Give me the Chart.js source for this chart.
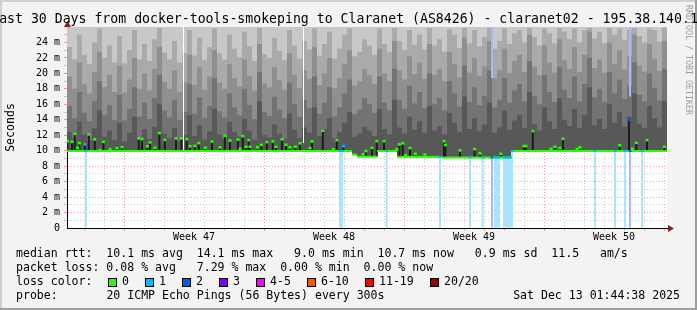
<!DOCTYPE html>
<html>
<head>
<meta charset="utf-8">
<script src="https://cdn.jsdelivr.net/npm/chart.js@4.4.1/dist/chart.umd.min.js"></script>
<style>
  html, body { margin: 0; padding: 0; background: #f3f3f3; }
  canvas { display: block; }
</style>
</head>
<body>
<canvas id="smoke" width="697" height="310"></canvas>
<script>
/* smokeping 30 day graph — claranet02 */

const MONO = '"DejaVu Sans Mono", monospace';
const DAYS = 30;
const Y_MAX = 26;
const COL_DAYS = 0.25;            // one smoke column = 6 hours

// median rtt per column (ms)
const MEDIAN = [
  9.96, 9.96, 9.96, 9.96, 9.96, 9.96, 9.96, 9.96, 9.96, 9.96,
  9.96, 9.96, 9.96, 9.96, 9.96, 9.96, 9.96, 9.96, 9.96, 9.96,
  9.96, 9.96, 9.96, 9.96, 9.96, 9.96, 9.96, 9.96, 9.96, 9.96,
  9.96, 9.96, 9.96, 9.96, 9.96, 9.96, 9.96, 9.96, 9.96, 9.96,
  9.96, 9.96, 9.96, 9.96, 9.96, 9.96, 9.96, 9.96, 9.96, 9.96,
  9.96, 9.96, 9.96, 9.96, 9.96, 9.96, 9.96, 9.5, 9.22, 9.22,
  9.22, 9.22, 9.96, 9.96, 9.96, 9.96, 9.2, 9.2, 9.2, 9.2,
  9.2, 9.2, 9.2, 9.2, 9.2, 9.12, 9.12, 9.12, 9.12, 9.12,
  9.12, 9.12, 9.12, 9.12, 9.12, 9.12, 9.12, 9.12, 9.12, 9.96,
  9.96, 9.96, 9.96, 9.96, 9.96, 9.96, 9.96, 9.96, 9.96, 9.96,
  9.96, 9.96, 9.96, 9.96, 9.96, 9.96, 9.96, 9.96, 9.96, 9.96,
  9.96, 9.96, 9.96, 9.96, 9.96, 9.96, 9.96, 9.96, 9.96, 9.96
];

// smoke: upper edge of each grey band per column (ms), darkest first
const SMOKE_1 = [
  12.4, 11.6, 13.8, 12.1, 11.3, 12.9, 15.2, 11.8, 12.6, 11.4,
  13.6, 11.2, 12.3, 14.4, 11.7, 12.8, 11.5, 13.1, 16.0, 12.2,
  11.6, 12.9, 11.3, 12.0, 14.6, 11.9, 13.3, 11.4, 12.5, 15.4,
  12.1, 11.5, 13.7, 12.4, 11.8, 14.1, 12.6, 11.4, 16.4, 12.0,
  11.7, 13.4, 12.2, 11.5, 14.8, 12.7, 11.6, 13.0, 12.3, 15.6,
  11.9, 12.8, 14.2, 11.6, 12.4, 13.6, 15.0, 11.8, 12.2, 13.1,
  12.6, 11.9, 15.4, 12.8, 12.1, 16.6, 13.0, 12.2, 14.4, 12.7,
  13.8, 12.3, 15.8, 12.6, 13.2, 12.1, 14.9, 13.6, 12.4, 17.0,
  12.8, 14.2, 12.5, 13.4, 16.2, 12.3, 13.0, 15.2, 12.7, 13.9,
  14.6, 12.9, 17.6, 13.4, 12.6, 15.6, 13.8, 12.8, 16.8, 14.0,
  13.2, 15.4, 12.9, 14.6, 18.2, 13.3, 14.1, 12.8, 16.0, 13.6,
  15.0, 13.1, 14.4, 17.4, 13.5, 12.9, 15.8, 14.2, 13.0, 16.4
];
const SMOKE_2 = [
  15.8, 14.2, 17.6, 14.9, 13.8, 16.4, 19.0, 14.6, 15.9, 14.0,
  17.2, 13.9, 15.4, 18.2, 14.4, 16.2, 14.1, 16.8, 19.8, 15.2,
  14.3, 16.6, 14.0, 15.0, 18.6, 14.8, 16.9, 14.2, 15.8, 19.4,
  15.1, 14.3, 17.4, 15.6, 14.6, 18.0, 15.9, 14.1, 20.2, 15.0,
  14.5, 17.0, 15.3, 14.2, 18.8, 16.0, 14.4, 16.6, 15.5, 19.6,
  14.8, 16.2, 18.2, 14.4, 15.6, 17.4, 19.2, 14.7, 15.3, 16.8,
  16.0, 14.9, 19.6, 16.2, 15.2, 20.6, 16.6, 15.4, 18.4, 16.1,
  17.6, 15.5, 20.0, 16.0, 16.8, 15.2, 19.0, 17.4, 15.7, 21.0,
  16.3, 18.2, 15.9, 17.1, 20.4, 15.6, 16.6, 19.4, 16.2, 17.8,
  18.6, 16.4, 21.6, 17.1, 16.0, 19.8, 17.6, 16.3, 20.8, 17.9,
  16.8, 19.6, 16.4, 18.6, 22.0, 16.9, 18.0, 16.3, 20.2, 17.4,
  19.2, 16.7, 18.4, 21.4, 17.2, 16.4, 20.0, 18.1, 16.5, 20.6
];
const SMOKE_3 = [
  19.6, 18.0, 21.4, 18.6, 17.4, 20.2, 22.8, 18.2, 19.8, 17.6,
  21.0, 17.5, 19.2, 22.0, 18.0, 20.0, 17.8, 20.6, 23.4, 18.9,
  18.0, 20.4, 17.6, 18.8, 22.4, 18.5, 20.8, 17.9, 19.6, 23.0,
  18.8, 18.0, 21.2, 19.4, 18.3, 21.8, 19.7, 17.8, 23.8, 18.7,
  18.2, 20.8, 19.1, 17.9, 22.6, 19.8, 18.1, 20.4, 19.3, 23.4,
  18.5, 20.0, 22.0, 18.1, 19.4, 21.2, 23.0, 18.4, 19.0, 20.6,
  19.8, 18.6, 23.2, 20.0, 19.0, 24.2, 20.4, 19.2, 22.2, 19.9,
  21.4, 19.3, 23.8, 19.8, 20.6, 19.0, 22.8, 21.2, 19.5, 24.6,
  20.1, 22.0, 19.7, 20.9, 24.2, 19.4, 20.4, 23.2, 20.0, 21.6,
  22.4, 20.2, 25.0, 20.9, 19.8, 23.6, 21.4, 20.1, 24.4, 21.7,
  20.6, 23.4, 20.2, 22.4, 25.4, 20.7, 21.8, 20.1, 24.0, 21.2,
  23.0, 20.5, 22.2, 25.0, 21.0, 20.2, 23.8, 21.9, 20.3, 24.2
];
const SMOKE_4 = [
  23.4, 21.8, 25.0, 22.4, 21.2, 24.0, 25.8, 22.0, 23.6, 21.4,
  24.8, 21.3, 23.0, 25.6, 21.8, 23.8, 21.6, 24.4, 25.9, 22.7,
  21.8, 24.2, 21.4, 22.6, 25.6, 22.3, 24.6, 21.7, 23.4, 25.8,
  22.6, 21.8, 25.0, 23.2, 22.1, 25.4, 23.5, 21.6, 25.9, 22.5,
  22.0, 24.6, 22.9, 21.7, 25.6, 23.6, 21.9, 24.2, 23.1, 25.8,
  22.3, 23.8, 25.4, 21.9, 23.2, 25.0, 25.8, 22.2, 22.8, 24.4,
  23.6, 22.4, 25.8, 23.8, 22.8, 25.9, 24.2, 23.0, 25.6, 23.7,
  25.0, 23.1, 25.9, 23.6, 24.4, 22.8, 25.7, 25.0, 23.3, 25.9,
  23.9, 25.6, 23.5, 24.7, 25.9, 23.2, 24.2, 25.8, 23.8, 25.2,
  25.6, 24.0, 25.9, 24.7, 23.6, 25.8, 25.2, 23.9, 25.9, 25.4,
  24.4, 25.8, 24.0, 25.6, 25.9, 24.5, 25.4, 23.9, 25.9, 25.0,
  25.8, 24.3, 25.6, 25.9, 24.8, 24.0, 25.8, 25.6, 24.1, 25.9
];

// short-lived median excursions (day offset, ms)
const SPIKE_DAY = [
  0.02, 0.25, 0.39, 0.52, 0.62, 0.89, 1.09, 1.39, 1.65, 1.82, 2.15, 2.49, 2.75, 3.59, 3.75,
  4.02, 4.15, 4.39, 4.62, 4.89, 5.45, 5.72, 5.99, 6.15, 6.39, 6.59, 6.92, 7.25, 7.65, 7.89,
  8.15, 8.55, 8.65, 8.79, 8.95, 9.09, 9.15, 9.52, 9.72, 9.99, 10.29, 10.45, 10.75, 10.95, 11.15,
  11.42, 11.65, 12.15, 12.25, 12.79, 13.32, 13.49, 13.82, 14.8, 14.95, 15.25, 15.49, 15.85, 16.49, 16.62,
  16.79, 16.92, 17.15, 17.42, 17.89, 18.85, 18.92, 19.65, 20.38, 20.65, 21.69, 22.85, 22.95, 23.29, 24.2,
  24.4, 24.64, 24.8, 25.5, 25.64, 27.64, 28.1, 28.27, 28.47, 29.0, 29.87
];
const SPIKE_MS = [
  11.42, 11.33, 12.37, 10.56, 11.16, 11.0, 12.29, 11.64, 10.26, 11.33, 10.39, 10.52, 10.65, 11.77, 11.68,
  10.74, 11.25, 10.56, 12.46, 11.59, 11.77, 11.77, 11.68, 10.74, 10.81, 11.16, 10.56, 11.36, 10.61, 12.13,
  11.49, 11.62, 10.43, 12.07, 10.69, 11.55, 10.69, 10.61, 10.94, 11.29, 11.38, 10.69, 11.64, 10.94, 10.61,
  10.69, 11.13, 10.52, 11.38, 12.76, 10.35, 11.55, 10.78, 9.7, 10.13, 10.56, 11.42, 11.42, 10.35, 11.0,
  11.13, 9.61, 10.52, 9.78, 9.68, 11.42, 10.91, 10.22, 10.39, 9.83, 9.78, 10.78, 10.78, 12.72, 10.43,
  10.69, 10.52, 11.72, 10.39, 10.61, 10.87, 14.14, 10.43, 11.2, 11.55, 10.69
];

// packet loss events: day offset, loss level, top of smoke where the loss bar shows above it
const LOSS_DAY   = [0.95, 13.65, 13.75, 15.98, 18.65, 20.15, 20.78, 21.25, 21.4, 21.5, 21.6,
                    21.85, 21.95, 22.05, 22.15, 22.25, 26.4, 27.4, 27.9, 28.15, 28.75];
const LOSS_LEVEL = [1, 1, 1, 1, 1, 1, 1, 2, 1, 1, 1,
                    1, 1, 1, 1, 1, 1, 1, 1, 2, 1];
const LOSS_SMOKE_TOP = [null, null, null, null, null, null, null, 19.4, null, null, null,
                        null, null, null, null, null, null, null, null, 17.0, null];

// missing samples (white lines through the smoke)
const GAP_DAY = [5.825, 11.825];
const GAP_LOW = [10.1, 11.0];

const DAY_LINE0 = 0.85;                       // first midnight on the graph
const WEEK_START = [2.85, 9.85, 16.85, 23.85];
const WEEK_LABELS = ['Week 47', 'Week 48', 'Week 49', 'Week 50'];
const Y_LABEL_VALUES = [0, 2, 4, 6, 8, 10, 12, 14, 16, 18, 20, 22, 24];
const Y_LABELS = ['0', '2 m', '4 m', '6 m', '8 m', '10 m', '12 m', '14 m', '16 m', '18 m', '20 m', '22 m', '24 m'];

const TITLE = 'Last 30 Days from docker-tools-smokeping to Claranet (AS8426) - claranet02 - 195.38.140.14';
const LEGEND_RTT = 'median rtt:  10.1 ms avg  14.1 ms max   9.0 ms min  10.7 ms now   0.9 ms sd  11.5   am/s';
const LEGEND_LOSS = 'packet loss: 0.08 % avg   7.29 % max  0.00 % min  0.00 % now';
const LOSS_NAMES = ['0', '1', '2', '3', '4-5', '6-10', '11-19', '20/20'];
const LOSS_COLORS = ['#26ff00', '#00b8ff', '#0059ff', '#7e00ff', '#ff00ff', '#ff5500', '#ff0000', '#a10000'];
const LOSS_BG = ['#ffffff', '#a9e5fc', '#a6b9ff'];
const SMOKE_SHADES = ['#585858', '#737373', '#8f8f8f', '#aaaaaa', '#c8c8c8'];
const PROBE = '20 ICMP Echo Pings (56 Bytes) every 300s';
const STAMP = 'Sat Dec 13 01:44:38 2025';
const WATERMARK = 'RRDTOOL / TOBI OETIKER';

const GRID = 'rgba(140,140,140,0.45)';
const MGRID = 'rgba(224,40,40,0.45)';
const LINE_HALF = 0.13;

/* ── derived helpers ─────────────────────────────────────────────── */
const colX = MEDIAN.map((m, i) => (i + 0.5) * COL_DAYS);
const medianAt = d => MEDIAN[Math.min(MEDIAN.length - 1, Math.floor(d / COL_DAYS))];

const dayLines = [];
for (let d = DAY_LINE0; d < DAYS; d += 1) dayLines.push(+d.toFixed(2));
const labelPos = WEEK_START.map(w => +(w + 3.5).toFixed(2));
const X_TICKS = dayLines.concat(labelPos).sort((a, b) => a - b);

function xGridColor(v) {
  if (labelPos.includes(v)) return 'rgba(0,0,0,0)';
  return WEEK_START.includes(v) ? MGRID : GRID;
}
function yGridColor(v) {
  if (v === 0 || v === Y_MAX) return 'rgba(0,0,0,0)';
  return v % 2 === 0 ? MGRID : GRID;
}
function lossIndexNear(d) {
  return LOSS_DAY.findIndex(l => Math.abs(l - d) < 0.08);
}

function bar(data, color, thickness, order) {
  return {
    type: 'bar', data, backgroundColor: color, barThickness: thickness,
    grouped: false, order, borderWidth: 0, inflateAmount: 0
  };
}

const smokeBand = (tops, color, order) =>
  bar(colX.map((x, i) => ({ x, y: [MEDIAN[i], tops[i]] })), color, 5, order);

const upperLoss = LOSS_DAY.map((d, i) => i).filter(i => LOSS_SMOKE_TOP[i] !== null);

const datasets = [
  smokeBand(MEDIAN.map(() => Y_MAX), SMOKE_SHADES[4], 30),
  smokeBand(SMOKE_4, SMOKE_SHADES[3], 29),
  smokeBand(SMOKE_3, SMOKE_SHADES[2], 28),
  smokeBand(SMOKE_2, SMOKE_SHADES[1], 27),
  smokeBand(SMOKE_1, SMOKE_SHADES[0], 26),
  bar(GAP_DAY.map((x, i) => ({ x, y: [GAP_LOW[i], Y_MAX] })), '#ffffff', 1, 16),
  bar(LOSS_DAY.map(x => ({ x, y: [0, medianAt(x) - LINE_HALF] })),
      LOSS_LEVEL.map(l => LOSS_BG[l]), 2, 15),
  bar(upperLoss.map(i => ({ x: LOSS_DAY[i], y: [LOSS_SMOKE_TOP[i], Y_MAX] })),
      upperLoss.map(i => LOSS_BG[LOSS_LEVEL[i]]), 2, 15),
  bar(SPIKE_DAY.map((x, i) => ({ x, y: [medianAt(x), SPIKE_MS[i]] })), '#1c1c1c', 2, 14),
  bar(colX.map((x, i) => ({ x, y: [MEDIAN[i] - LINE_HALF, MEDIAN[i] + LINE_HALF] })), LOSS_COLORS[0], 5, 13),
  bar(LOSS_DAY.map(x => ({ x, y: [medianAt(x) - LINE_HALF, medianAt(x) + LINE_HALF] })),
      LOSS_LEVEL.map(l => LOSS_COLORS[l]), 3, 12),
  bar(SPIKE_DAY.map((x, i) => ({ x, y: [SPIKE_MS[i] - 0.35, SPIKE_MS[i]] })),
      SPIKE_DAY.map(d => { const k = lossIndexNear(d); return k < 0 ? LOSS_COLORS[0] : LOSS_COLORS[LOSS_LEVEL[k]]; }), 3, 11)
];

/* ── frame, title and legend ─────────────────────────────────────── */
const frame = {
  id: 'frame',
  beforeDraw(chart) {
    const { ctx, chartArea: a } = chart;
    ctx.save();
    ctx.fillStyle = '#f3f3f3';
    ctx.fillRect(0, 0, 697, 310);
    ctx.fillStyle = '#cfcfcf';
    ctx.fillRect(0, 0, 697, 2);
    ctx.fillRect(0, 0, 2, 310);
    ctx.fillStyle = '#9e9e9e';
    ctx.fillRect(0, 308, 697, 2);
    ctx.fillRect(695, 0, 2, 310);
    ctx.fillStyle = '#ffffff';
    ctx.fillRect(a.left, a.top, a.right - a.left, a.bottom - a.top);
    ctx.restore();
  },
  afterDraw(chart) {
    const { ctx, chartArea: a } = chart;
    ctx.save();

    // axis arrows
    ctx.fillStyle = '#7f1f1f';
    ctx.beginPath();
    ctx.moveTo(64, a.top); ctx.lineTo(71, a.top); ctx.lineTo(67.5, a.top - 6);
    ctx.closePath(); ctx.fill();
    ctx.beginPath();
    ctx.moveTo(a.right + 1, a.bottom - 3); ctx.lineTo(a.right + 1, a.bottom + 4); ctx.lineTo(a.right + 7, a.bottom + 0.5);
    ctx.closePath(); ctx.fill();

    ctx.fillStyle = '#000';
    ctx.font = '13.2px ' + MONO;
    ctx.textAlign = 'center';
    ctx.textBaseline = 'alphabetic';
    ctx.fillText(TITLE, 348.5, 23);

    ctx.font = '11.55px ' + MONO;
    ctx.textAlign = 'left';
    ctx.textBaseline = 'middle';
    ctx.fillText(LEGEND_RTT, 16, 254);
    ctx.fillText(LEGEND_LOSS, 16, 268);
    ctx.fillText('loss color:', 16, 282);
    const boxX = [108, 145, 182, 219, 256, 307, 365, 430];
    LOSS_NAMES.forEach((name, i) => {
      ctx.fillStyle = LOSS_COLORS[i];
      ctx.fillRect(boxX[i], 278, 8, 8);
      ctx.strokeStyle = '#000';
      ctx.lineWidth = 1;
      ctx.strokeRect(boxX[i] + 0.5, 278.5, 8, 8);
      ctx.fillStyle = '#000';
      ctx.fillText(name, boxX[i] + 14, 282);
    });
    ctx.fillText('probe:', 16, 296);
    ctx.fillText(PROBE, 106.4, 296);
    ctx.textAlign = 'right';
    ctx.fillText(STAMP, 680, 296);

    // watermark
    ctx.fillStyle = '#9c9c9c';
    ctx.font = '8.3px ' + MONO;
    ctx.textAlign = 'left';
    ctx.translate(688, 5);
    ctx.rotate(Math.PI / 2);
    ctx.fillText(WATERMARK, 0, 0);
    ctx.restore();
  }
};

new Chart(document.getElementById('smoke'), {
  type: 'bar',
  data: { datasets },
  plugins: [frame],
  options: {
    responsive: false,
    devicePixelRatio: 1,
    animation: false,
    events: [],
    layout: { padding: { top: 27, right: 30, bottom: 0, left: 0 } },
    plugins: { legend: { display: false }, tooltip: { enabled: false } },
    scales: {
      x: {
        type: 'linear', min: 0, max: DAYS, offset: false, z: 1,
        afterFit: s => { s.height = 82; },
        afterBuildTicks: s => { s.ticks = X_TICKS.map(v => ({ value: v })); },
        grid: {
          offset: false,
          color: c => xGridColor(c.tick.value),
          tickColor: c => xGridColor(c.tick.value),
          tickLength: 3
        },
        border: { color: '#000', width: 1, dash: [1, 2] },
        ticks: {
          autoSkip: false, maxRotation: 0, padding: 0, color: '#000',
          font: { family: MONO, size: 10 },
          callback: v => { const k = labelPos.indexOf(v); return k < 0 ? '' : WEEK_LABELS[k]; }
        }
      },
      y: {
        min: 0, max: Y_MAX, z: 1,
        afterFit: s => { s.width = 67; },
        grid: {
          color: c => yGridColor(c.tick.value),
          tickColor: c => yGridColor(c.tick.value),
          tickLength: 3
        },
        border: { color: '#000', width: 1, dash: [1, 2] },
        ticks: {
          stepSize: 1, autoSkip: false, padding: 4, color: '#000',
          font: { family: MONO, size: 10 },
          callback: v => { const k = Y_LABEL_VALUES.indexOf(v); return k < 0 ? '' : Y_LABELS[k]; }
        },
        title: {
          display: true, text: 'Seconds', color: '#000',
          font: { family: MONO, size: 11.55 },
          padding: { top: 4, bottom: 0 }
        }
      }
    }
  }
});
</script>
</body>
</html>
